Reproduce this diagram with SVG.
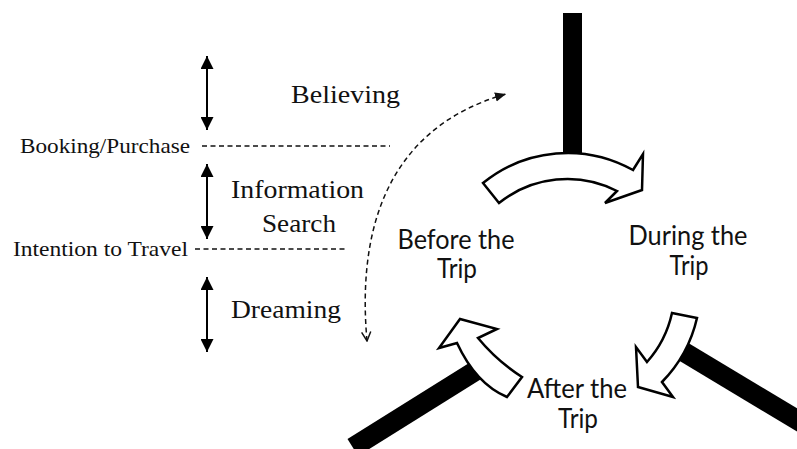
<svg xmlns="http://www.w3.org/2000/svg" width="797" height="449" viewBox="0 0 797 449">
<style>
.serif{font-family:"Liberation Serif","Times New Roman",serif;fill:#111}
.sans{font-family:Lato,"Open Sans",sans-serif;fill:#111}
.bar{fill:#000}
.arw{fill:#fff;stroke:#000;stroke-width:2.5;stroke-linejoin:miter}
.dash{fill:none;stroke:#111;stroke-width:1.5;stroke-dasharray:5,3.5}
.vline{stroke:#000;stroke-width:2;fill:none}
</style>
<defs>
<marker id="tri" viewBox="0 0 12 12" refX="12" refY="6" markerWidth="13" markerHeight="13" markerUnits="userSpaceOnUse" orient="auto-start-reverse">
<path d="M0,0 L12,6 L0,12 Z" fill="#000"/>
</marker>
<marker id="tri2" viewBox="0 0 12 12" refX="12" refY="6" markerWidth="11" markerHeight="11" markerUnits="userSpaceOnUse" orient="auto">
<path d="M0,1 L12,6 L0,11 Z" fill="#111"/>
</marker>
<marker id="chev" viewBox="0 0 12 12" refX="11" refY="6" markerWidth="11" markerHeight="11" markerUnits="userSpaceOnUse" orient="auto-start-reverse">
<path d="M1,1 L11,6 L1,11" fill="none" stroke="#111" stroke-width="1.6"/>
</marker>
</defs>

<g id="bars">
<rect class="bar" x="563" y="13" width="19" height="150"/>
<rect class="bar" x="0" y="-10" width="160" height="20" transform="translate(684,352) rotate(31)"/>
<rect class="bar" x="0" y="-10" width="150" height="20" transform="translate(480,368) rotate(148)"/>
</g>

<g id="arrow-top">
<path class="arw" d="M483,183 A134,134 0 0 1 633,170 L643,154 L642,190 L605,203 L617,191 A109,109 0 0 0 499,203 Z"/>
</g>
<g id="arrow-right">
<path class="arw" d="M697,318 A134,134 0 0 1 662,382 L673,397 L638,387 L636,347 L647,362 A109,109 0 0 0 672,313 Z"/>
</g>
<g id="arrow-left">
<path class="arw" d="M507,397 Q476,384 457,343 L439,348 L460,319 L497,329 L478,338 Q497,361 522,377 Z"/>
</g>

<g id="node-before">
<text class="sans" x="456" y="249" font-size="26" text-anchor="middle" textLength="117" lengthAdjust="spacingAndGlyphs">Before the</text>
<text class="sans" x="457" y="278" font-size="26" text-anchor="middle" textLength="40" lengthAdjust="spacingAndGlyphs">Trip</text>
</g>
<g id="node-during">
<text class="sans" x="688" y="245" font-size="26" text-anchor="middle" textLength="119" lengthAdjust="spacingAndGlyphs">During the</text>
<text class="sans" x="689" y="275" font-size="26" text-anchor="middle" textLength="39" lengthAdjust="spacingAndGlyphs">Trip</text>
</g>
<g id="node-after">
<text class="sans" x="577" y="398" font-size="26" text-anchor="middle" textLength="100" lengthAdjust="spacingAndGlyphs">After the</text>
<text class="sans" x="578" y="428" font-size="26" text-anchor="middle" textLength="40" lengthAdjust="spacingAndGlyphs">Trip</text>
</g>

<g id="stages">
<text class="serif" x="291" y="103" font-size="26" textLength="109" lengthAdjust="spacingAndGlyphs">Believing</text>
<text class="serif" x="231" y="198" font-size="26" textLength="133" lengthAdjust="spacingAndGlyphs">Information</text>
<text class="serif" x="262" y="232" font-size="26" textLength="74" lengthAdjust="spacingAndGlyphs">Search</text>
<text class="serif" x="231" y="318" font-size="26" textLength="110" lengthAdjust="spacingAndGlyphs">Dreaming</text>
<text class="serif" x="20" y="153" font-size="21.5" textLength="170" lengthAdjust="spacingAndGlyphs">Booking/Purchase</text>
<text class="serif" x="13" y="256" font-size="21.5" textLength="175" lengthAdjust="spacingAndGlyphs">Intention to Travel</text>
</g>

<g id="connectors">
<line class="dash" x1="202" y1="146" x2="390" y2="146"/>
<line class="dash" x1="195" y1="249" x2="345" y2="249"/>
<line class="vline" x1="207" y1="56" x2="207" y2="130" marker-start="url(#tri)" marker-end="url(#tri)"/>
<line class="vline" x1="207" y1="164" x2="207" y2="239" marker-start="url(#tri)" marker-end="url(#tri)"/>
<line class="vline" x1="207" y1="277" x2="207" y2="352" marker-start="url(#tri)" marker-end="url(#tri)"/>
<path class="dash" d="M367,341 C358,240 380,130 506,94" marker-start="url(#chev)" marker-end="url(#tri2)"/>
</g>
</svg>
